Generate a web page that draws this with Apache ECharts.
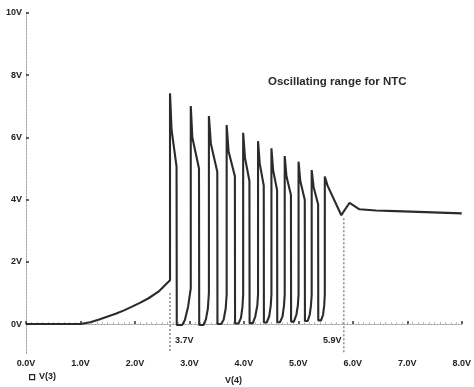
<!DOCTYPE html>
<html>
<head>
<meta charset="utf-8">
<script src="https://cdn.jsdelivr.net/npm/echarts@6/dist/echarts.min.js"></script>
<style>
  html, body { margin: 0; padding: 0; background: #fff; }
  #chart { width: 474px; height: 387px; }
</style>
</head>
<body>
<div id="chart"></div>
<script>
// V(4) sweep on x, V(3) on y.
const rampV4 = [0.0, 1.0, 1.18, 1.343, 1.5, 1.646, 1.8, 1.947, 2.1, 2.25, 2.432, 2.644];
const rampV3 = [0.0, 0.0, 0.06, 0.15, 0.24, 0.33, 0.44, 0.56, 0.69, 0.83, 1.04, 1.41];

// oscillation: rise -> peak -> knee -> fall end -> drop -> bottom -> curve up
const oscV4 = [
  2.644, 2.673, 2.764, 2.768, 2.868, 2.917, 2.976, 3.025,
  3.025, 3.054, 3.176, 3.18, 3.258, 3.303, 3.339, 3.358,
  3.358, 3.394, 3.512, 3.515, 3.585, 3.63, 3.666, 3.684,
  3.684, 3.72, 3.835, 3.838, 3.902, 3.947, 3.974, 3.987,
  3.987, 4.02, 4.102, 4.105, 4.165, 4.21, 4.247, 4.26,
  4.26, 4.292, 4.365, 4.368, 4.419, 4.465, 4.494, 4.506,
  4.506, 4.537, 4.61, 4.613, 4.664, 4.71, 4.737, 4.75,
  4.75, 4.782, 4.864, 4.867, 4.918, 4.964, 4.991, 5.004,
  5.004, 5.036, 5.118, 5.121, 5.172, 5.209, 5.232, 5.245,
  5.245, 5.281, 5.363, 5.366, 5.417, 5.454, 5.475, 5.486
];
const oscV3 = [
  7.42, 6.24, 5.06, -0.03, -0.03, 0.13, 0.56, 1.15,
  7.01, 6.0, 5.0, -0.03, -0.03, 0.15, 0.5, 1.0,
  6.69, 5.8, 4.9, 0.0, 0.0, 0.15, 0.5, 0.95,
  6.40, 5.55, 4.75, 0.02, 0.02, 0.2, 0.55, 0.95,
  6.15, 5.35, 4.6, 0.03, 0.03, 0.25, 0.6, 0.95,
  5.88, 5.15, 4.45, 0.05, 0.05, 0.25, 0.6, 0.95,
  5.65, 4.95, 4.3, 0.06, 0.06, 0.25, 0.6, 0.95,
  5.40, 4.75, 4.15, 0.08, 0.08, 0.3, 0.6, 0.95,
  5.22, 4.6, 4.0, 0.1, 0.1, 0.3, 0.6, 0.95,
  4.95, 4.4, 3.85, 0.12, 0.12, 0.3, 0.6, 0.95
];

// last peak and settling tail
const tailV4 = [5.486, 5.536, 5.789, 5.94, 6.122, 6.425, 6.788, 7.332, 8.0];
const tailV3 = [4.74, 4.45, 3.50, 3.90, 3.69, 3.65, 3.63, 3.60, 3.56];

// dashed markers for the oscillating range
const rangeV4 = [2.644, 5.835];
const rangeTopV3 = [1.0, 3.4];
const rangeLabels = ["3.7V", "5.9V"];

const yTicks = [0, 2, 4, 6, 8, 10];
const Y_MIN = -0.93;

function pairs(xs, ys) {
  return xs.map((x, i) => [x, ys[i]]);
}

const trace = pairs(rampV4, rampV3)
  .concat(pairs(oscV4, oscV3))
  .concat(pairs(tailV4, tailV3));

const chart = echarts.init(document.getElementById("chart"));

const labelFont = {
  fontFamily: "Liberation Sans",
  fontWeight: "bold",
  fontSize: 9,
  color: "#222"
};

const dottedAxis = {
  show: true,
  lineStyle: { color: "#9a9a9a", type: [1, 2], width: 1 }
};

const option = {
  animation: false,
  backgroundColor: "#fff",
  title: {
    text: "Oscillating range for NTC",
    left: 263,
    top: 71,
    textStyle: {
      fontFamily: "Liberation Sans",
      fontWeight: "bold",
      fontSize: 11.5,
      color: "#2a2a2a"
    }
  },
  grid: { left: 26, right: 7, top: 13, bottom: 34 },
  xAxis: [
    {
      type: "value",
      min: 0,
      max: 8,
      interval: 1,
      axisLine: dottedAxis,
      axisTick: { show: true, length: 3, inside: true, lineStyle: { color: "#333", width: 1.5 } },
      minorTick: { show: true, splitNumber: 10, length: 2, lineStyle: { color: "#bbb" } },
      splitLine: { show: false },
      axisLabel: Object.assign({}, labelFont, {
        margin: 6,
        formatter: v => v.toFixed(1) + "V"
      })
    },
    {
      type: "value",
      position: "top",
      min: 0,
      max: 8,
      interval: 1,
      axisLine: dottedAxis,
      axisTick: { show: false },
      axisLabel: { show: false },
      splitLine: { show: false }
    }
  ],
  yAxis: [
    {
      type: "value",
      min: Y_MIN,
      max: 10,
      axisLine: dottedAxis,
      axisTick: {
        show: true,
        inside: true,
        length: 3,
        customValues: yTicks,
        lineStyle: { color: "#333", width: 1.5 }
      },
      splitLine: { show: false },
      axisLabel: Object.assign({}, labelFont, {
        margin: 4,
        customValues: yTicks,
        formatter: v => Math.round(v) + "V"
      })
    },
    {
      type: "value",
      position: "right",
      min: Y_MIN,
      max: 10,
      axisLine: dottedAxis,
      axisTick: { show: false },
      axisLabel: { show: false },
      splitLine: { show: false }
    }
  ],
  graphic: [
    {
      type: "rect",
      left: 29,
      top: 374,
      shape: { width: 5, height: 5 },
      style: { fill: "#fff", stroke: "#222", lineWidth: 1.2 }
    },
    {
      type: "text",
      left: 39,
      top: 372,
      style: Object.assign({ text: "V(3)" }, labelFont, { fill: "#222" })
    },
    {
      type: "text",
      left: 225,
      top: 376,
      style: Object.assign({ text: "V(4)" }, labelFont, { fill: "#222" })
    },
    // range annotations under the dashed markers
    {
      type: "text",
      left: 175,
      top: 336,
      style: Object.assign({ text: rangeLabels[0] }, labelFont, { fill: "#222" })
    },
    {
      type: "text",
      left: 323,
      top: 336,
      style: Object.assign({ text: rangeLabels[1] }, labelFont, { fill: "#222" })
    }
  ],
  series: [
    {
      type: "line",
      data: trace,
      showSymbol: false,
      symbol: "none",
      lineStyle: { color: "#2b2b2b", width: 2.1 },
      z: 3
    }
  ].concat(rangeV4.map((x, i) => ({
    type: "line",
    data: [[x, rangeTopV3[i]], [x, Y_MIN]],
    symbol: "none",
    lineStyle: { color: "#8a8a8a", width: 1.5, type: [2, 2] },
    z: 2
  })))
};

chart.setOption(option);
</script>
</body>
</html>
